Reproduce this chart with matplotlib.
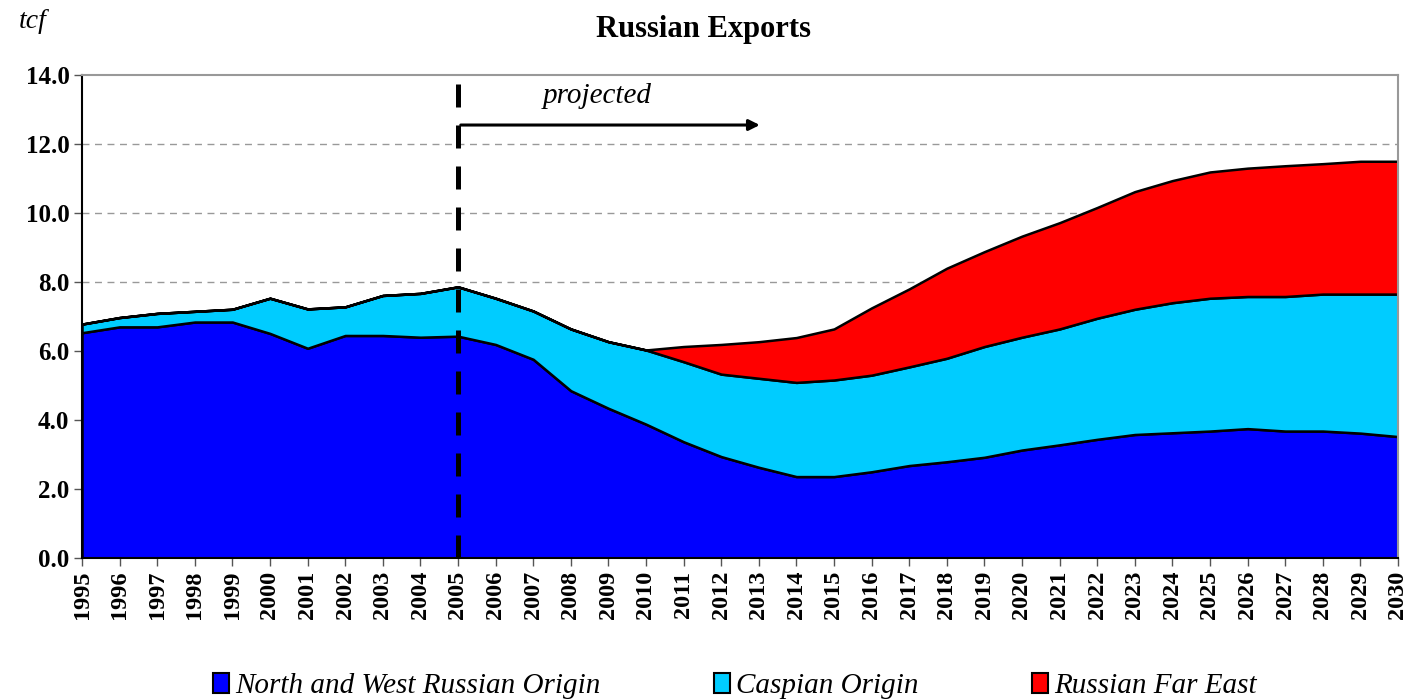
import matplotlib
matplotlib.use("Agg")
import matplotlib.pyplot as plt
from matplotlib.patches import Patch
import numpy as np

years = list(range(1995, 2031))
nw_top = [6.53, 6.70, 6.70, 6.84, 6.84, 6.51, 6.08, 6.45, 6.45, 6.40, 6.43,
          6.19, 5.76, 4.85, 4.34, 3.88, 3.37, 2.94, 2.63, 2.36, 2.36, 2.50,
          2.68, 2.79, 2.92, 3.13, 3.28, 3.44, 3.58, 3.63, 3.68, 3.75, 3.68,
          3.68, 3.62, 3.52]
casp_top = [6.78, 6.97, 7.09, 7.15, 7.21, 7.53, 7.22, 7.28, 7.61, 7.67, 7.86,
            7.53, 7.16, 6.64, 6.27, 6.03, 5.69, 5.33, 5.21, 5.09, 5.16, 5.30,
            5.54, 5.79, 6.13, 6.40, 6.64, 6.95, 7.21, 7.40, 7.53, 7.58, 7.58,
            7.65, 7.65, 7.65]
total_top = [6.78, 6.97, 7.09, 7.15, 7.21, 7.53, 7.22, 7.28, 7.61, 7.67, 7.86,
             7.53, 7.16, 6.64, 6.27, 6.03, 6.13, 6.19, 6.27, 6.39, 6.64, 7.25,
             7.80, 8.40, 8.88, 9.33, 9.72, 10.16, 10.62, 10.94, 11.19, 11.30,
             11.37, 11.43, 11.50, 11.50]

north_west = np.array(nw_top)
caspian = np.array(casp_top) - north_west
far_east = np.array(total_top) - np.array(casp_top)

labels = ["North and West Russian Origin", "Caspian Origin", "Russian Far East"]
colors = ["#0000FF", "#00CCFF", "#FF0000"]

plt.rcParams['font.family'] = ['Liberation Serif', 'DejaVu Serif']

fig = plt.figure(figsize=(14.1, 6.99), dpi=100)
ax = fig.add_axes([82/1410, 1 - 558/699, 1316/1410, 483/699])

ax.stackplot(years, north_west, caspian, far_east, colors=colors,
             edgecolor='black', linewidth=1.8, zorder=2)

ax.set_xlim(1995, 2030)
ax.set_ylim(0, 14)
ax.set_yticks(np.arange(0, 14.01, 2))
ax.set_yticklabels([f"{v:.1f}" for v in np.arange(0, 14.01, 2)],
                   fontsize=18, fontweight='bold')
ax.set_xticks(years)
ax.set_xticklabels([str(y) for y in years], rotation=90, fontsize=17.5,
                   fontweight='bold')
ax.tick_params(axis='both', direction='out', length=6, width=1, color='#555555',
               pad=3)

for yv in range(2, 14, 2):
    ax.axhline(yv, color='#999999', linestyle=(0, (5, 4)), linewidth=1, zorder=1)

for s in ['top', 'right']:
    ax.spines[s].set_color('#999999')
    ax.spines[s].set_linewidth(1.5)
for s in ['left', 'bottom']:
    ax.spines[s].set_color('black')
    ax.spines[s].set_linewidth(1.5)

ax.axvline(2005, color='black', linestyle=(0, (4.6, 3.6)), linewidth=3.6, zorder=4)
ax.annotate('', xy=(2013.1, 12.55), xytext=(2005, 12.55),
            arrowprops=dict(arrowstyle='-|>', color='black', lw=2.2,
                            mutation_scale=16), zorder=5)
ax.text(2008.7, 13.4, 'projected', fontsize=21, fontstyle='italic',
        ha='center', va='center')

fig.text(703/1410, 1 - 30/699, 'Russian Exports', fontsize=22,
         fontweight='bold', ha='center', va='center')
fig.text(33/1410, 1 - 22/699, 'tcf', fontsize=20, fontstyle='italic',
         ha='center', va='center')

handles = [Patch(facecolor=c, edgecolor='black', linewidth=1.5) for c in colors]
fig.legend(handles, labels, loc='center', bbox_to_anchor=(735/1410, 1 - 686/699),
           ncol=3, frameon=False, prop={'size': 21, 'style': 'italic'},
           handlelength=0.55, handleheight=0.7, handletextpad=0.2,
           columnspacing=3.9, borderpad=0)

fig.savefig('out.png', dpi=100)
